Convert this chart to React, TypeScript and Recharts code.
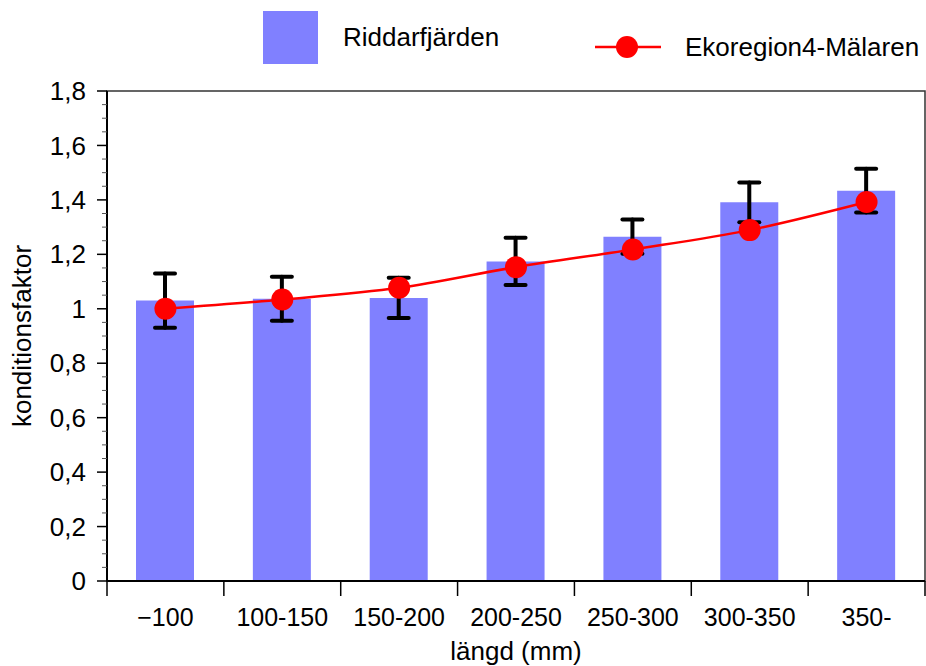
import {
  ComposedChart,
  Bar,
  Line,
  XAxis,
  YAxis,
  ErrorBar,
  Legend,
  ReferenceArea,
} from "recharts";

const categories = ["−100", "100-150", "150-200", "200-250", "250-300", "300-350", "350-"];
const riddarfjarden = [1.03, 1.037, 1.04, 1.174, 1.265, 1.391, 1.434];
const riddarfjardenErr = [0.1, 0.081, 0.074, 0.087, 0.063, 0.073, 0.08];
const ekoregion = [1.0, 1.034, 1.077, 1.153, 1.218, 1.289, 1.392];

const majorTicks = [0, 0.2, 0.4, 0.6, 0.8, 1, 1.2, 1.4, 1.6, 1.8];
const minorTicks = majorTicks.slice(0, -1).flatMap((t) => [t + 0.05, t + 0.1, t + 0.15]);
const yTicks = [...majorTicks, ...minorTicks].sort((a, b) => a - b);

const data = categories.map((cat, i) => ({
  cat,
  riddarfjarden: riddarfjarden[i],
  err: riddarfjardenErr[i],
  ekoregion: ekoregion[i],
}));

const FONT = '"Liberation Sans", Arial, sans-serif';
const BLUE = "#8080FF";
const RED = "#FF0000";

const Y_TICK_SIZE = 10;
const Y_TICK_MARGIN = 11;
const X_TICK_SIZE = 15;
const X_TICK_MARGIN = 21;

const fmt = (v: number) => String(Math.round(v * 10) / 10).replace(".", ",");

const YTick = (props: any) => {
  const { x, y, payload } = props;
  const axisX = x + Y_TICK_SIZE + Y_TICK_MARGIN;
  const v = payload.value;
  const major = Math.abs(v * 5 - Math.round(v * 5)) < 1e-6;
  return (
    <g>
      <line
        x1={axisX - (major ? 10 : 5)}
        x2={axisX}
        y1={y}
        y2={y}
        stroke={major ? "#000" : "#555"}
        strokeWidth={major ? 1.5 : 1}
      />
      {major && (
        <text x={x} y={y} dy="0.35em" textAnchor="end" fontSize={26} fill="#000" fontFamily={FONT}>
          {fmt(v)}
        </text>
      )}
    </g>
  );
};

const XTick = (props: any) => {
  const { x, y, payload, index, visibleTicksCount, width } = props;
  const axisY = y - X_TICK_SIZE - X_TICK_MARGIN;
  const half = payload.offset || width / visibleTicksCount / 2;
  return (
    <g>
      <line x1={x - half} x2={x - half} y1={axisY} y2={axisY + X_TICK_SIZE} stroke="#000" strokeWidth={1.5} />
      {index === visibleTicksCount - 1 && (
        <line x1={x + half} x2={x + half} y1={axisY} y2={axisY + X_TICK_SIZE} stroke="#000" strokeWidth={1.5} />
      )}
      <text x={x} y={y} dy="0.35em" textAnchor="middle" fontSize={25} fill="#000" fontFamily={FONT}>
        {payload.value}
      </text>
    </g>
  );
};

const XLabel = (props: any) => {
  const { x, y, width } = props.viewBox;
  return (
    <text x={x + width / 2} y={y + 70} dy="0.35em" textAnchor="middle" fontSize={26} fill="#000" fontFamily={FONT}>
      längd (mm)
    </text>
  );
};

const YLabel = (props: any) => {
  const { x, y, height } = props.viewBox;
  const cx = x + 22;
  const cy = y + height / 2;
  return (
    <text
      x={cx}
      y={cy}
      dy="0.35em"
      textAnchor="middle"
      fontSize={26}
      fill="#000"
      fontFamily={FONT}
      transform={`rotate(-90, ${cx}, ${cy})`}
    >
      konditionsfaktor
    </text>
  );
};

const LegendContent = () => (
  <div style={{ position: "relative", width: 926, height: 91, fontFamily: FONT, fontSize: 26, color: "#000" }}>
    <div style={{ position: "absolute", left: 263, top: 11, width: 55, height: 53, background: BLUE }} />
    <div style={{ position: "absolute", left: 343, top: 22, lineHeight: "30px", whiteSpace: "nowrap" }}>
      Riddarfjärden
    </div>
    <svg style={{ position: "absolute", left: 595, top: 36 }} width={66} height={22}>
      <line x1={0} x2={66} y1={11} y2={11} stroke={RED} strokeWidth={2.5} />
      <circle cx={32} cy={11} r={11} fill={RED} />
    </svg>
    <div style={{ position: "absolute", left: 685, top: 32, lineHeight: "30px", whiteSpace: "nowrap" }}>
      Ekoregion4-Mälaren
    </div>
  </div>
);

export default function App() {
  return (
    <div style={{ width: 926, height: 666, fontFamily: FONT, background: "#fff" }}>
      <style>{"body { margin: 0; }"}</style>
      <ComposedChart
        width={926}
        height={666}
        data={data}
        margin={{ top: 91, right: 1, bottom: 0, left: 0 }}
      >
        <XAxis
          dataKey="cat"
          height={85}
          interval={0}
          tickSize={X_TICK_SIZE}
          tickMargin={X_TICK_MARGIN}
          tickLine={false}
          tick={<XTick />}
          axisLine={{ stroke: "#000", strokeWidth: 2 }}
          label={<XLabel />}
        />
        <YAxis
          type="number"
          domain={[0, 1.8]}
          ticks={yTicks}
          interval={0}
          width={107}
          tickSize={Y_TICK_SIZE}
          tickMargin={Y_TICK_MARGIN}
          tickLine={false}
          tick={<YTick />}
          axisLine={{ stroke: "#000", strokeWidth: 2 }}
          label={<YLabel />}
        />
        <Legend
          layout="horizontal"
          verticalAlign="middle"
          align="center"
          wrapperStyle={{ top: 0, left: 0, width: 926, height: 91 }}
          content={<LegendContent />}
        />
        <ReferenceArea y1={0} y2={1.8} fill="none" stroke="#333" strokeWidth={1.5} ifOverflow="visible" />
        <Bar dataKey="riddarfjarden" fill={BLUE} barSize={58} isAnimationActive={false}>
          <ErrorBar
            dataKey="err"
            direction="y"
            width={10}
            stroke="#000"
            strokeWidth={4}
            strokeLinecap="round"
            isAnimationActive={false}
          />
        </Bar>
        <Line
          type="monotone"
          dataKey="ekoregion"
          stroke={RED}
          strokeWidth={2.5}
          dot={{ r: 11, fill: RED, stroke: "none" }}
          activeDot={false}
          isAnimationActive={false}
        />
      </ComposedChart>
    </div>
  );
}
